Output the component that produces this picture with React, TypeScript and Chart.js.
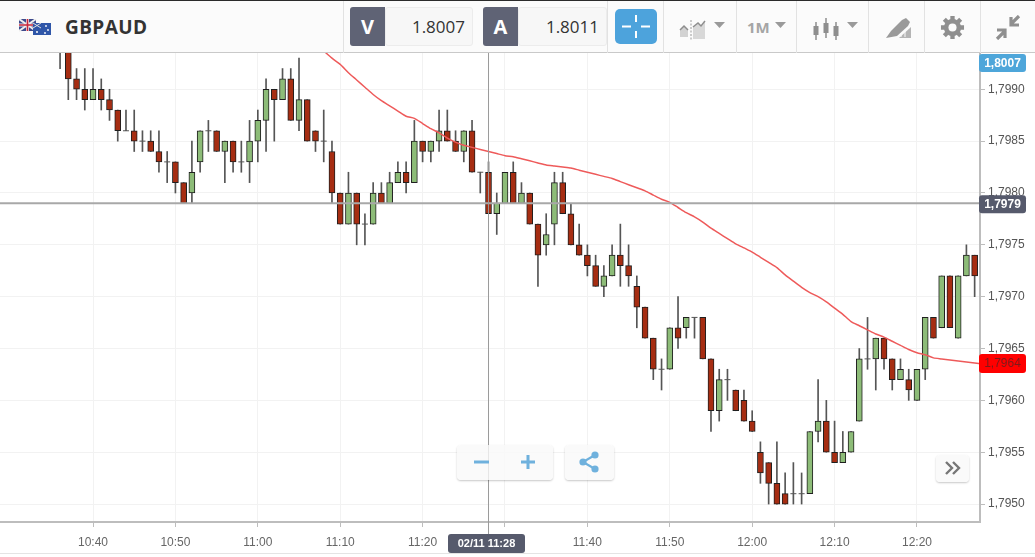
import React, { useEffect, useRef } from "react";
import { Chart, registerables } from "chart.js";

Chart.register(...registerables);

// Minutes since midnight of every candle, 10:36 … 12:27
const firstMinute = 636;
const opens = [
  1.7995, 1.7994, 1.7991, 1.7990, 1.7989, 1.7990, 1.7989, 1.7988, 1.7986, 1.7986, 1.7985, 1.7985, 1.7984, 1.7983, 1.7983, 1.7981,
  1.7980, 1.7983, 1.7986, 1.7986, 1.7984, 1.7985, 1.7983, 1.7983, 1.7985, 1.7987, 1.7990, 1.7989,
  1.7991, 1.7987, 1.7989, 1.7986, 1.7985, 1.7984, 1.7980, 1.7977, 1.7980, 1.7977, 1.7977, 1.7980, 1.7979, 1.7981, 1.7982, 1.7981,
  1.7985, 1.7984, 1.7985, 1.7986, 1.7985, 1.7984, 1.7986, 1.7982, 1.7982, 1.7978, 1.7979, 1.7982, 1.7979, 1.7980, 1.7977, 1.7975,
  1.7977, 1.7981, 1.7978, 1.7975, 1.7974, 1.7973, 1.7971, 1.7972, 1.7974, 1.7973, 1.7971, 1.7969, 1.7966, 1.7963, 1.7963, 1.7967,
  1.7967, 1.7968, 1.7968, 1.7964, 1.7959, 1.7962, 1.7961, 1.7960, 1.7958, 1.7955, 1.7954, 1.7952, 1.7951, 1.7951, 1.7951, 1.7951,
  1.7957, 1.7958, 1.7955, 1.7954, 1.7955, 1.7958, 1.7964, 1.7964, 1.7966, 1.7964, 1.7962, 1.7962, 1.7960, 1.7963, 1.7968, 1.7967,
  1.7972, 1.7966, 1.7972, 1.7974,
];
const highs = [
  1.7996, 1.7994, 1.7992, 1.7992, 1.7992, 1.7991, 1.7990, 1.7988, 1.7988, 1.7988, 1.7986, 1.7986, 1.7986, 1.7984, 1.7983, 1.7981,
  1.7985, 1.7986, 1.7987, 1.7986, 1.7985, 1.7985, 1.7985, 1.7987, 1.7988, 1.7991, 1.7990, 1.7992,
  1.7992, 1.7993, 1.7989, 1.7986, 1.7988, 1.7985, 1.7980, 1.7982, 1.7980, 1.7978, 1.7981, 1.7981, 1.7982, 1.7983, 1.7983, 1.7987,
  1.7985, 1.7985, 1.7988, 1.7988, 1.7986, 1.7986, 1.7987, 1.7982, 1.7983, 1.7980, 1.7982, 1.7983, 1.7981, 1.7980, 1.7977, 1.7978,
  1.7982, 1.7982, 1.7979, 1.7977, 1.7975, 1.7974, 1.7973, 1.7975, 1.7977, 1.7975, 1.7972, 1.7969, 1.7966, 1.7964, 1.7967, 1.7970,
  1.7968, 1.7968, 1.7968, 1.7964, 1.7963, 1.7963, 1.7961, 1.7961, 1.7959, 1.7956, 1.7954, 1.7956, 1.7953, 1.7954, 1.7953, 1.7957,
  1.7962, 1.7960, 1.7958, 1.7957, 1.7957, 1.7965, 1.7968, 1.7966, 1.7966, 1.7964, 1.7964, 1.7963, 1.7963, 1.7968, 1.7968, 1.7972,
  1.7972, 1.7972, 1.7975, 1.7974,
];
const lows = [
  1.7992, 1.7989, 1.7989, 1.7988, 1.7989, 1.7988, 1.7987, 1.7985, 1.7986, 1.7984, 1.7984, 1.7984, 1.7982, 1.7981, 1.7980, 1.7979,
  1.7979, 1.7982, 1.7984, 1.7984, 1.7981, 1.7982, 1.7982, 1.7981, 1.7983, 1.7984, 1.7985, 1.7989,
  1.7987, 1.7986, 1.7985, 1.7984, 1.7983, 1.7979, 1.7977, 1.7977, 1.7975, 1.7975, 1.7977, 1.7979, 1.7979, 1.7981, 1.7980, 1.7981,
  1.7983, 1.7983, 1.7984, 1.7985, 1.7984, 1.7983, 1.7982, 1.7980, 1.7978, 1.7976, 1.7979, 1.7979, 1.7979, 1.7977, 1.7971, 1.7974,
  1.7975, 1.7978, 1.7975, 1.7974, 1.7972, 1.7971, 1.7970, 1.7972, 1.7971, 1.7971, 1.7967, 1.7966, 1.7962, 1.7961, 1.7963, 1.7965,
  1.7966, 1.7966, 1.7964, 1.7957, 1.7958, 1.7960, 1.7959, 1.7958, 1.7957, 1.7952, 1.7950, 1.7950, 1.7950, 1.7950, 1.7950, 1.7951,
  1.7956, 1.7955, 1.7954, 1.7954, 1.7955, 1.7958, 1.7963, 1.7961, 1.7963, 1.7961, 1.7962, 1.7960, 1.7960, 1.7962, 1.7966, 1.7967,
  1.7967, 1.7966, 1.7972, 1.7970,
];
const closes = [
  1.7994, 1.7991, 1.7990, 1.7989, 1.7990, 1.7989, 1.7988, 1.7986, 1.7986, 1.7985, 1.7985, 1.7984, 1.7983, 1.7983, 1.7981, 1.7979,
  1.7982, 1.7986, 1.7986, 1.7984, 1.7985, 1.7983, 1.7983, 1.7985, 1.7987, 1.7990, 1.7989, 1.7991,
  1.7987, 1.7989, 1.7985, 1.7985, 1.7985, 1.7980, 1.7977, 1.7980, 1.7977, 1.7977, 1.7980, 1.7979, 1.7981, 1.7982, 1.7981, 1.7985,
  1.7984, 1.7985, 1.7986, 1.7985, 1.7984, 1.7986, 1.7982, 1.7982, 1.7978, 1.7979, 1.7982, 1.7979, 1.7980, 1.7977, 1.7974, 1.7976,
  1.7981, 1.7978, 1.7975, 1.7974, 1.7973, 1.7971, 1.7972, 1.7974, 1.7973, 1.7972, 1.7969, 1.7966, 1.7963, 1.7963, 1.7967, 1.7966,
  1.7968, 1.7968, 1.7964, 1.7959, 1.7962, 1.7962, 1.7959, 1.7958, 1.7957, 1.7953, 1.7952, 1.7950, 1.7950, 1.7951, 1.7951, 1.7957,
  1.7958, 1.7955, 1.7954, 1.7955, 1.7957, 1.7964, 1.7964, 1.7966, 1.7964, 1.7962, 1.7963, 1.7961, 1.7963, 1.7968, 1.7966, 1.7972,
  1.7967, 1.7972, 1.7974, 1.7972,
];

// Moving average, one value per minute from 11:08
const maFirstMinute = 668;
const movingAverage = [
  1.79937, 1.7993, 1.79924, 1.79916, 1.79909, 1.79902, 1.79895, 1.79889, 1.79884, 1.79879, 1.79874, 1.79872, 1.79867, 1.79862, 1.79858, 1.79853,
  1.79849, 1.79846, 1.79844, 1.79842, 1.7984, 1.79838, 1.79836, 1.79835, 1.79833, 1.79831, 1.79829, 1.79827, 1.79826, 1.79825, 1.79824, 1.79822,
  1.7982, 1.79818, 1.79816, 1.79814, 1.79811, 1.79808, 1.79805, 1.79802, 1.79798, 1.79794, 1.79791, 1.79786, 1.79781, 1.79777, 1.79772, 1.79766,
  1.79761, 1.79756, 1.79751, 1.79747, 1.79743, 1.79738, 1.79733, 1.79728, 1.79721, 1.79715, 1.79709, 1.79704, 1.797, 1.79695, 1.79689, 1.79683,
  1.79676, 1.79672, 1.79668, 1.79664, 1.79661, 1.79657, 1.79653, 1.79649, 1.79646, 1.79644, 1.79641, 1.7964, 1.79639, 1.79638, 1.79637, 1.79636, 1.79635,
];

const xTicks = [640, 650, 660, 670, 680, 690, 700, 710, 720, 730, 740];
const yTicks = [1.795, 1.7955, 1.796, 1.7965, 1.797, 1.7975, 1.798, 1.7985, 1.799];

const askLabel = "1,8007";
const crossPrice = 1.7979;
const crossMinute = 688;
const crossTimeLabel = "02/11 11:28";
const symbol = "GBPAUD";
const bidValue = "1.8007";
const askValue = "1.8011";
const lastMaLabel = "1,7964";

const minuteOf = (i: number) => firstMinute + i;
const fmtTime = (m: number) => `${Math.floor(m / 60)}:${String(m % 60).padStart(2, "0")}`;
const fmtPrice = (v: number) => v.toFixed(4).replace(".", ",");

const RED = "#a62d12";
const GREEN = "#8dbc78";
const TAG = "#565a6c";
const AXIS = "#bdbdbd";

function tag(ctx: CanvasRenderingContext2D, x: number, y: number, w: number, h: number, bg: string, fg: string, text: string, font: string) {
  ctx.save();
  ctx.fillStyle = bg;
  ctx.beginPath();
  ctx.roundRect(x, y, w, h, 3);
  ctx.fill();
  ctx.fillStyle = fg;
  ctx.font = font;
  ctx.textAlign = "center";
  ctx.textBaseline = "middle";
  ctx.fillText(text, x + w / 2, y + h / 2 + 0.5);
  ctx.restore();
}

const overlay = {
  id: "overlay",
  afterDraw(chart: any) {
    const { ctx, chartArea: a, scales } = chart;
    const cy = scales.y.getPixelForValue(crossPrice);
    const cx = scales.x.getPixelForValue(crossMinute);
    ctx.save();
    ctx.strokeStyle = "#a8a8a8";
    ctx.lineWidth = 2;
    ctx.beginPath();
    ctx.moveTo(a.left, cy);
    ctx.lineTo(a.right, cy);
    ctx.stroke();
    ctx.strokeStyle = "#9a9a9a";
    ctx.lineWidth = 1;
    ctx.beginPath();
    ctx.moveTo(cx, a.top);
    ctx.lineTo(cx, 534);
    ctx.stroke();
    ctx.restore();
    const bold = "bold 12px 'Liberation Sans'";
    tag(ctx, 979, 54, 47, 18, "#4ea6da", "#ffffff", askLabel, bold);
    tag(ctx, 979, cy - 8, 47, 18, TAG, "#ffffff", fmtPrice(crossPrice), bold);
    const my = scales.y.getPixelForValue(movingAverage[movingAverage.length - 2]);
    tag(ctx, 979, my - 9, 47, 19, "#ff0000", "#7d1a1a", lastMaLabel, "12px 'Liberation Sans'");
    tag(ctx, 448, 534, 77, 19, TAG, "#ffffff", crossTimeLabel, "bold 11px 'Liberation Sans'");
  },
};

const box = (x: number, y: number, w: number, h: number, extra: React.CSSProperties = {}): React.CSSProperties => ({
  position: "absolute",
  left: x,
  top: y,
  width: w,
  height: h,
  boxSizing: "border-box",
  ...extra,
});

const Caret = ({ x, y }: { x: number; y: number }) => (
  <svg style={box(x, y, 11, 6)} viewBox="0 0 11 6">
    <path d="M0 0H11L5.5 6Z" fill="#9a9a9a" />
  </svg>
);

const Divider = ({ x }: { x: number }) => <div style={box(x, 1, 1, 52, { background: "#e2e2e2" })} />;

const floatBtn: React.CSSProperties = {
  background: "rgba(249,249,249,0.8)",
  borderRadius: 4,
  boxShadow: "0 1px 2px rgba(0,0,0,0.22)",
};

export default function App() {
  const ref = useRef<HTMLCanvasElement | null>(null);

  useEffect(() => {
    if (!ref.current) return;
    const idx = opens.map((_, i) => i);
    const chart = new Chart(ref.current, {
      type: "bar",
      data: {
        datasets: [
          {
            type: "line",
            data: movingAverage.map((y, i) => ({ x: maFirstMinute + i, y })),
            borderColor: "#ee5a5a",
            borderWidth: 1.5,
            pointRadius: 0,
            tension: 0.2,
            order: 0,
          },
          {
            type: "bar",
            data: idx.filter((i) => opens[i] !== closes[i]).map((i) => ({ x: minuteOf(i), y: [opens[i], closes[i]] })),
            backgroundColor: idx.filter((i) => opens[i] !== closes[i]).map((i) => (closes[i] > opens[i] ? GREEN : RED)),
            borderColor: "#1f1f1f",
            borderWidth: 1,
            borderSkipped: false,
            barThickness: 6,
            grouped: false,
            order: 1,
          },
          {
            type: "line",
            data: idx.filter((i) => opens[i] === closes[i]).map((i) => ({ x: minuteOf(i), y: opens[i] })),
            showLine: false,
            pointStyle: "line",
            pointRadius: 3,
            pointBorderColor: "#555",
            pointBorderWidth: 1,
            order: 2,
          },
          {
            type: "bar",
            data: idx.map((i) => ({ x: minuteOf(i), y: [lows[i], highs[i]] })),
            backgroundColor: "#555",
            borderWidth: 0,
            barThickness: 1,
            grouped: false,
            order: 3,
          },
        ] as any,
      },
      options: {
        animation: false,
        responsive: false,
        layout: { autoPadding: false, padding: { top: 53, left: 0, right: 0, bottom: 0 } },
        plugins: { legend: { display: false }, tooltip: { enabled: false } },
        scales: {
          x: {
            type: "linear",
            offset: false,
            min: 628.71,
            max: 747.65,
            afterBuildTicks: (s: any) => {
              s.ticks = xTicks.map((value) => ({ value }));
            },
            afterFit: (s: any) => {
              s.height = 35;
              s.paddingLeft = 0;
              s.paddingRight = 0;
            },
            ticks: {
              autoSkip: false,
              maxRotation: 0,
              padding: 8,
              color: "#666",
              font: { family: "'Liberation Sans'", size: 12 },
              callback: (v: any) => fmtTime(Number(v)),
            },
            grid: { offset: false, color: "#f2f2f2", tickColor: AXIS, tickLength: 5 },
            border: { color: AXIS, width: 2 },
          },
          y: {
            type: "linear",
            position: "right",
            min: 1.794827,
            max: 1.79935,
            afterBuildTicks: (s: any) => {
              s.ticks = yTicks.map((value) => ({ value }));
            },
            afterFit: (s: any) => {
              s.width = 55;
              s.paddingTop = 0;
              s.paddingBottom = 0;
            },
            ticks: {
              autoSkip: false,
              padding: 3,
              color: "#555",
              font: { family: "'Liberation Sans'", size: 12 },
              callback: (v: any) => fmtPrice(Number(v)),
            },
            grid: { color: "#f2f2f2", tickColor: AXIS, tickLength: 5 },
            border: { color: AXIS, width: 2 },
          },
        },
      } as any,
      plugins: [overlay],
    });
    return () => chart.destroy();
  }, []);

  const sans = "'Open Sans', sans-serif";
  const valueStyle: React.CSSProperties = {
    background: "#f7f7f7",
    border: "1px solid #ececec",
    borderRadius: 3,
    color: "#333",
    font: `400 17px ${sans}`,
    lineHeight: "38px",
    textAlign: "right",
    paddingRight: 7,
  };
  const letterStyle: React.CSSProperties = {
    background: "#5f6375",
    borderRadius: "3px 0 0 3px",
    color: "#fff",
    font: `700 20px ${sans}`,
    lineHeight: "39px",
    textAlign: "center",
  };

  return (
    <div style={box(0, 0, 1035, 557, { position: "fixed", overflow: "hidden", background: "#fff" })}>
      <canvas ref={ref} width={1035} height={557} style={{ position: "absolute", left: 0, top: 0, display: "block" }} />

      {/* Toolbar */}
      <div style={box(0, 0, 1035, 53, { background: "#fbfbfb", borderTop: "1px solid #2b2b2b", borderBottom: "1px solid #c9c9c9" })} />
      <svg style={box(19, 19, 32, 17)} viewBox="0 0 32 17">
        <rect x="0" y="0" width="17" height="12" fill="#3d4a8c" />
        <path d="M0 0L17 12M17 0L0 12" stroke="#eee" strokeWidth="2" />
        <path d="M8.5 0V12M0 6H17" stroke="#eee" strokeWidth="3" />
        <path d="M8.5 0V12M0 6H17" stroke="#c8283c" strokeWidth="1.6" />
        <rect x="14" y="4" width="18" height="12" fill="#2f56a8" />
        <path d="M14 4L22 9M22 4L14 9" stroke="#ddd" strokeWidth="1" />
        <circle cx="18" cy="13" r="1" fill="#fff" />
        <circle cx="27" cy="7" r="0.9" fill="#fff" />
        <circle cx="29" cy="11" r="0.9" fill="#fff" />
        <circle cx="26" cy="14" r="0.9" fill="#fff" />
      </svg>
      <div style={box(65, 14, 110, 26, { font: `700 19px ${sans}`, lineHeight: "26px", color: "#333", letterSpacing: 0.4 })}>{symbol}</div>

      <Divider x={343} />
      <div style={box(350, 7, 35, 39, letterStyle)}>V</div>
      <div style={box(385, 7, 88, 39, valueStyle)}>{bidValue}</div>
      <div style={box(483, 7, 35, 39, letterStyle)}>A</div>
      <div style={box(518, 7, 89, 39, valueStyle)}>{askValue}</div>
      <Divider x={607} />

      <div style={box(615, 9, 42, 35, { background: "#4da3dc", borderRadius: 5 })} />
      <svg style={box(621, 14, 30, 25)} viewBox="0 0 30 25">
        <path d="M15 1V8M15 17V24M1 12.5H10M20 12.5H29" stroke="#fff" strokeWidth="2" />
      </svg>
      <Divider x={663} />

      <svg style={box(679, 17, 30, 24)} viewBox="0 0 30 24">
        <path d="M1 20V13L5 9L9 13V20Z" fill="#d2d2d2" />
        <path d="M14 22V10L19 6L22 9L26 5V22Z" fill="#d8d8d8" />
        <path d="M1 13L5 9L9 13" fill="none" stroke="#8e8e8e" strokeWidth="1.5" />
        <path d="M14 10L19 6L22 9L26 4" fill="none" stroke="#8e8e8e" strokeWidth="1.5" />
        <path d="M12 3V23" stroke="#9a9a9a" strokeWidth="1" strokeDasharray="2 1.5" />
      </svg>
      <Caret x={714} y={22} />
      <Divider x={736} />

      <div style={box(747, 16, 28, 22, { font: `700 15px ${sans}`, lineHeight: "22px", color: "#a5a5a5" })}>1M</div>
      <Caret x={775} y={22} />
      <Divider x={796} />

      <svg style={box(812, 16, 28, 26)} viewBox="0 0 28 26">
        <path d="M4 6V24M14 2V22M24 6V24" stroke="#8e8e8e" strokeWidth="1.5" />
        <rect x="1.5" y="10" width="5" height="9" fill="#8e8e8e" />
        <rect x="11.5" y="7" width="5" height="10" fill="#8e8e8e" />
        <rect x="21.5" y="10" width="5" height="10" fill="#8e8e8e" />
      </svg>
      <Caret x={847} y={22} />
      <Divider x={868} />

      <svg style={box(885, 17, 27, 23)} viewBox="0 0 27 23">
        <path d="M1 21L6 14L17 3L21 1L25 5L23 9L12 19Z" fill="#9a9a9a" />
        <path d="M14 21L26 10V21Z" fill="#b5b5b5" />
        <path d="M16 20V16M20 20V13" stroke="#fbfbfb" strokeWidth="1" />
      </svg>
      <Divider x={924} />

      <svg style={box(940, 15, 25, 25)} viewBox="0 0 26 26">
        <path d="M13 1V25M1 13H25M4.5 4.5L21.5 21.5M21.5 4.5L4.5 21.5" stroke="#8f8f8f" strokeWidth="4.5" />
        <circle cx="13" cy="13" r="9" fill="#8f8f8f" />
        <circle cx="13" cy="13" r="4.2" fill="#fbfbfb" />
      </svg>
      <Divider x={980} />

      <svg style={box(995, 15, 26, 25)} viewBox="0 0 26 25">
        <path d="M24 1L16 9M16 2V10H24" fill="none" stroke="#8f8f8f" strokeWidth="3.2" />
        <path d="M2 24L10 16M2 15H10V23" fill="none" stroke="#8f8f8f" strokeWidth="3.2" />
      </svg>

      {/* Floating buttons */}
      <div style={box(457, 445, 96, 35, floatBtn)} />
      <svg style={box(473, 455, 18, 14)} viewBox="0 0 18 14">
        <path d="M1 7H16" stroke="#6fb1dd" strokeWidth="3" />
      </svg>
      <svg style={box(520, 453, 16, 18)} viewBox="0 0 16 18">
        <path d="M1 9H15M8 2V16" stroke="#6fb1dd" strokeWidth="3" />
      </svg>
      <div style={box(565, 445, 49, 35, floatBtn)} />
      <svg style={box(578, 450, 22, 24)} viewBox="0 0 22 24">
        <path d="M17 5L5 12L17 19" fill="none" stroke="#6fb1dd" strokeWidth="2.2" />
        <circle cx="17" cy="5" r="3.6" fill="#6fb1dd" />
        <circle cx="5" cy="12" r="3.6" fill="#6fb1dd" />
        <circle cx="17" cy="19" r="3.6" fill="#6fb1dd" />
      </svg>
      <div style={box(936, 455, 33, 27, floatBtn)} />
      <svg style={box(944, 460, 18, 16)} viewBox="0 0 18 16">
        <path d="M2 2L8 8L2 14M9 2L15 8L9 14" fill="none" stroke="#777" strokeWidth="2.4" />
      </svg>

      <div style={box(0, 553, 1035, 1, { background: "#e4e4e4" })} />
    </div>
  );
}
